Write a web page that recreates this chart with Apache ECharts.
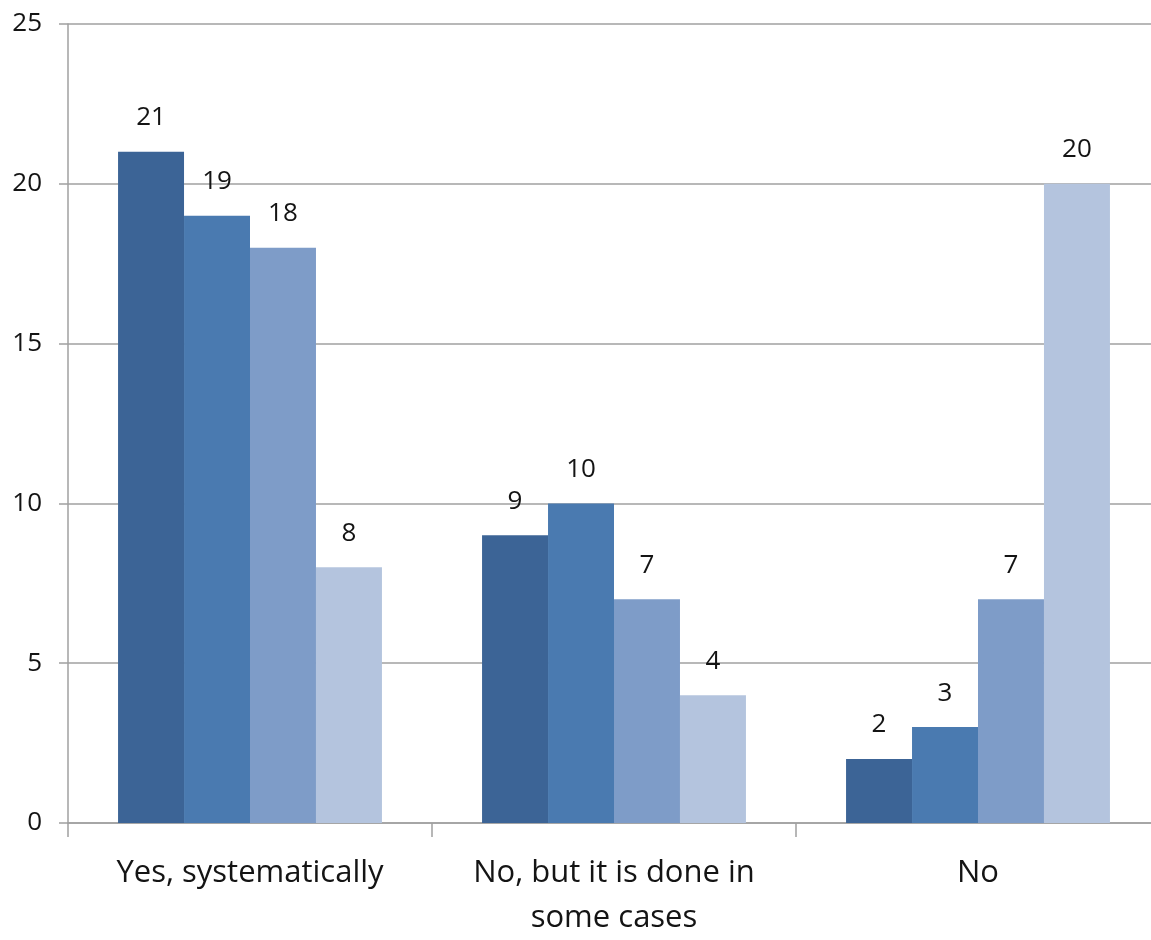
<!DOCTYPE html>
<html>
<head>
<meta charset="utf-8">
<script src="https://cdn.jsdelivr.net/npm/echarts@6/dist/echarts.min.js"></script>
<style>
  html, body { margin: 0; padding: 0; background: #fff; }
  #main { width: 1151px; height: 940px; }
</style>
</head>
<body>
<div id="main"></div>
<script>
// categories + values
var categories = ["Yes, systematically", "No, but it is done in\nsome cases", "No"];
var seriesA = [21, 9, 2];
var seriesB = [19, 10, 3];
var seriesC = [18, 7, 7];
var seriesD = [8, 4, 20];
var colors = ["#3c6496", "#4a7ab0", "#7e9cc8", "#b4c4de"];

var myChart = echarts.init(document.getElementById("main"));

var labelStyle = {
  show: true,
  position: "top",
  distance: 21,
  color: "#141414",
  fontFamily: "Open Sans",
  fontSize: 26
};

function bar(data, i) {
  return {
    type: "bar",
    data: data,
    barGap: "0%",
    barCategoryGap: "27.5%",
    itemStyle: { color: colors[i] },
    label: labelStyle,
    emphasis: { disabled: true }
  };
}

myChart.setOption({
  animation: false,
  // plot runs a little past the right edge of the picture
  grid: { left: 68, top: 24, width: 1092, height: 799, outerBoundsMode: "none" },
  xAxis: {
    type: "category",
    data: categories,
    axisLine: { lineStyle: { color: "#a0a0a0", width: 1.5 } },
    axisTick: { show: true, length: 14, interval: 0, lineStyle: { color: "#a0a0a0", width: 1.5 } },
    axisLabel: {
      color: "#141414",
      fontFamily: "Open Sans",
      fontSize: 31,
      margin: 28,
      lineHeight: 45,
      interval: 0
    }
  },
  yAxis: {
    type: "value",
    min: 0,
    max: 25,
    interval: 5,
    axisLine: { show: true, lineStyle: { color: "#a0a0a0", width: 1.5 } },
    axisTick: { show: true, length: 9, lineStyle: { color: "#a0a0a0", width: 1.5 } },
    splitLine: { lineStyle: { color: "#a0a0a0", width: 1.5 } },
    axisLabel: {
      color: "#141414",
      fontFamily: "Open Sans",
      fontSize: 26,
      margin: 26
    }
  },
  series: [bar(seriesA, 0), bar(seriesB, 1), bar(seriesC, 2), bar(seriesD, 3)]
});
</script>
</body>
</html>
